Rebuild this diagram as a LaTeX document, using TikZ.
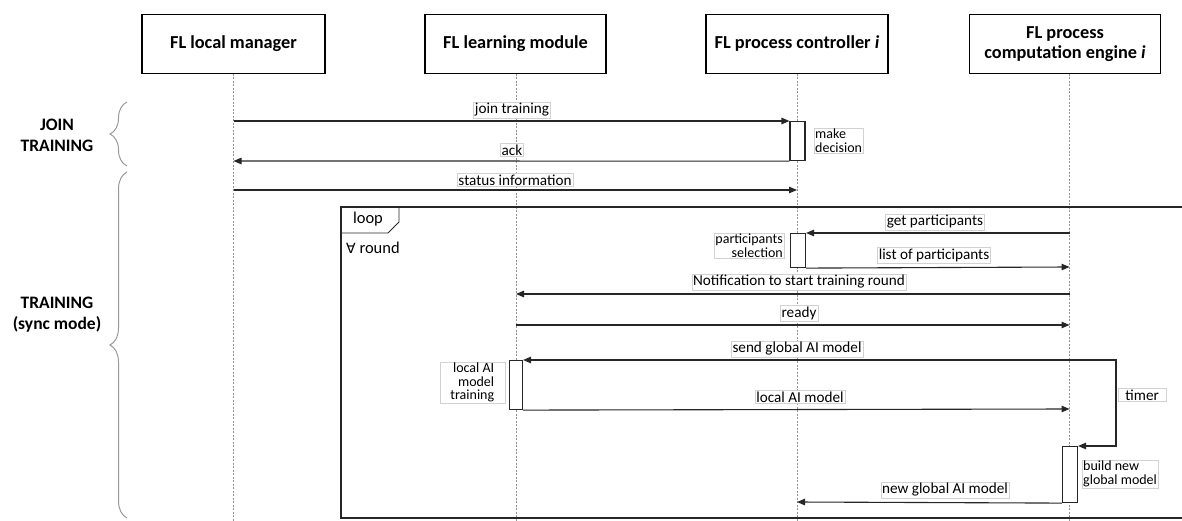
\documentclass[tikz,border=0pt]{standalone}
\usepackage{fontspec}
\setmainfont{Carlito}
\newfontfamily\symfont{DejaVu Sans}
\usetikzlibrary{arrows.meta,decorations.pathreplacing,calc}

\begin{document}
\begin{tikzpicture}[x=1pt,y=-1pt,
  actor/.style={draw=black, line width=1.4pt, fill=white, minimum height=59pt,
    font=\bfseries\fontsize{18.3}{20}\selectfont, align=center, inner sep=0pt},
  life/.style={draw=gray!85, line width=0.6pt, dash pattern=on 2pt off 1.5pt},
  msg/.style={-{Triangle[length=8pt,width=6.5pt]}, line width=1.1pt, draw=black!85},
  lbl/.style={draw=gray!35, fill=white, inner sep=1.3pt, font=\fontsize{15.2}{16}\selectfont},
  note/.style={draw=gray!35, fill=white, inner sep=1pt, font=\fontsize{14}{13.5}\selectfont},
  act/.style={draw=black!85, fill=white, line width=1.1pt, inner sep=0pt},
  phase/.style={font=\bfseries\fontsize{17.5}{21}\selectfont, align=center},
  bracebar/.style={draw=gray!80, line width=1pt,
    decorate, decoration={brace, amplitude=17pt}},
  frame/.style={draw=black!85, line width=1.3pt}]

\useasboundingbox (0,0) rectangle (1182,521);

% participants
\node[actor, minimum width=183pt] (lm) at (233.5,44) {FL local manager};
\node[actor, minimum width=181pt] (lmod) at (515.5,44) {FL learning module};
\node[actor, minimum width=182pt] (pc) at (797,44) {FL process controller \textit{i}};
\node[actor, minimum width=191pt] (ce) at (1065,44) {FL process\\computation engine \textit{i}};

% lifelines
\coordinate (lmEnd) at (233.5,521);
\coordinate (lmodEnd) at (516,521);
\coordinate (pcEnd) at (797,521);
\coordinate (ceEnd) at (1069.5,521);
\draw[life] (233.5,74) -- (lmEnd);
\draw[life] (516,74) -- (lmodEnd);
\draw[life] (797,74) -- (pcEnd);
\draw[life] (1069.5,74) -- (ceEnd);

% phase braces
\coordinate (joinTop) at (127,102);
\coordinate (joinBot) at (127,166);
\coordinate (trainTop) at (127,172);
\coordinate (trainBot) at (127,518);
\draw[bracebar] (joinBot) -- (joinTop);
\draw[bracebar] (trainBot) -- (trainTop);
\node[phase] (joinLbl) at (57,135) {JOIN\\TRAINING};
\node[phase] (trainLbl) at (57,315) {TRAINING\\(sync mode)};

% loop fragment
\coordinate (frTR) at (1182,207);
\coordinate (frTL) at (341,207);
\coordinate (frBL) at (341,518);
\coordinate (frBR) at (1182,518);
\draw[frame] (frTR) -- (frTL) -- (frBL) -- (frBR);
\coordinate (tabA) at (341,233);
\coordinate (tabB) at (388,233);
\coordinate (tabC) at (399,222);
\coordinate (tabD) at (399,207);
\draw[frame, line width=0.9pt] (tabA) -- (tabB) -- (tabC) -- (tabD);
\node[font=\fontsize{16.5}{18}\selectfont] (loopLbl) at (368,219) {loop};
\node[anchor=west, font=\fontsize{16.5}{18}\selectfont, inner sep=0pt] (guard) at (346,248)
  {{\symfont\fontsize{14}{16}\selectfont ∀} round};

% activation bars
\node[act, minimum width=15pt, minimum height=39pt, anchor=north] (a1) at (797.5,121) {};
\node[act, minimum width=15pt, minimum height=34pt, anchor=north] (a2) at (798,233) {};
\node[act, minimum width=13pt, minimum height=49pt, anchor=north] (a3) at (516,360) {};
\node[act, minimum width=15pt, minimum height=56pt, anchor=north] (a4) at (1070,446) {};

% message end points on lifelines
\coordinate (lm1) at (233.5,121);
\coordinate (lm2) at (233.5,161);
\coordinate (lm3) at (233.5,190);
\coordinate (pc3) at (797,190);
\coordinate (ce4) at (1069.5,233);
\coordinate (ce5) at (1069.5,267);
\coordinate (ce6) at (1069.5,294);
\coordinate (lmod6) at (516,294);
\coordinate (lmod7) at (516,325);
\coordinate (ce7) at (1069.5,325);
\coordinate (ce8) at (1069.5,360);
\coordinate (ce9) at (1069.5,409);
\coordinate (tmA) at (1116,360);
\coordinate (tmB) at (1116,446);
\coordinate (pc11) at (797,502);

% messages
\draw[msg] (lm1) -- (a1.north west);
\draw[msg] (a1.south west) -- (lm2);
\draw[msg] (lm3) -- (pc3);
\draw[msg] (ce4) -- (a2.north east);
\draw[msg] (a2.south east) -- (ce5);
\draw[msg] (ce6) -- (lmod6);
\draw[msg] (lmod7) -- (ce7);
\draw[msg] (ce8) -- (a3.north east);
\draw[msg] (a3.south east) -- (ce9);
\draw[msg] (ce8) -- (tmA) -- (tmB) -- (a4.north east);
\draw[msg] (a4.south west) -- (pc11);

% message labels
\node[lbl] (l1) at (512,110) {join training};
\node[lbl] (l2) at (512,150) {ack};
\node[lbl] (l3) at (515,180) {status information};
\node[lbl] (l4) at (935,222) {get participants};
\node[lbl] (l5) at (934,255) {list of participants};
\node[lbl] (l6) at (799,282) {Notification to start training round};
\node[lbl] (l7) at (799,313) {ready};
\node[lbl] (l8) at (797,349) {send global AI model};
\node[lbl] (l9) at (800,397) {local AI model};
\node[lbl, anchor=west, minimum width=48pt, align=left] (l10) at (1118,395) {timer};
\node[lbl] (l11) at (945,490) {new global AI model};

% activity notes
\node[note, anchor=north west, align=left] (n1) at (814,128) {make\\decision};
\node[note, anchor=north east, align=right] (n2) at (784,233) {participants\\selection};
\node[note, anchor=north east, align=right, minimum width=65pt] (n3) at (505,362) {local AI\\model\\training};
\node[note, anchor=north west, align=left] (n4) at (1082,460) {build new\\global model};

\end{tikzpicture}
\end{document}
